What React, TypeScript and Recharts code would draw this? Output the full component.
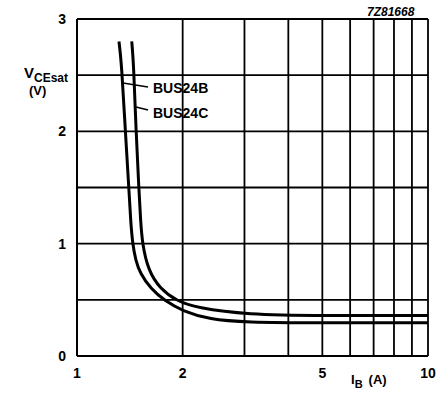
import React from 'react';
import { LineChart, Line, XAxis, YAxis, CartesianGrid, ReferenceLine, Customized } from 'recharts';

const xTicks = [1, 2, 3, 4, 5, 6, 7, 8, 9, 10];
const xLabelled = [1, 2, 5, 10];
const yTicks = [0, 0.5, 1, 1.5, 2, 2.5, 3];
const yLabelled = [0, 1, 2, 3];

const bus24B = [
  { x: 1.317, y: 2.8 },
  { x: 1.34, y: 2.6 },
  { x: 1.373, y: 2.0 },
  { x: 1.405, y: 1.5 },
  { x: 1.422, y: 1.2 },
  { x: 1.44, y: 1.0 },
  { x: 1.47, y: 0.85 },
  { x: 1.512, y: 0.74 },
  { x: 1.62, y: 0.6 },
  { x: 1.781, y: 0.49 },
  { x: 2.0, y: 0.4 },
  { x: 2.39, y: 0.325 },
  { x: 3.0, y: 0.3 },
  { x: 5.0, y: 0.295 },
  { x: 10.0, y: 0.295 },
];

const bus24C = [
  { x: 1.432, y: 2.8 },
  { x: 1.45, y: 2.6 },
  { x: 1.473, y: 2.0 },
  { x: 1.5, y: 1.5 },
  { x: 1.518, y: 1.2 },
  { x: 1.535, y: 1.0 },
  { x: 1.596, y: 0.76 },
  { x: 1.724, y: 0.6 },
  { x: 1.923, y: 0.49 },
  { x: 2.19, y: 0.43 },
  { x: 3.04, y: 0.368 },
  { x: 5.0, y: 0.36 },
  { x: 10.0, y: 0.36 },
];

const font = 'Arial, "Liberation Sans", Helvetica, sans-serif';

const Annotations = () => (
  <g fontFamily={font} fontWeight="bold" fill="#000">
    <text x={153} y={93} fontSize={14}>BUS24B</text>
    <text x={153} y={118} fontSize={14}>BUS24C</text>
    <text x={367} y={16} fontSize={12} fontStyle="italic">7Z81668</text>
    <text x={24} y={78} fontSize={15}>
      V<tspan fontSize={12} dy={4}>CEsat</tspan>
    </text>
    <text x={29} y={95} fontSize={13}>(V)</text>
    <text x={351} y={384} fontSize={13}>
      I<tspan fontSize={11} dy={4}>B</tspan>
      <tspan dy={-4} dx={6}>(A)</tspan>
    </text>
  </g>
);

const xFmt = (v: number) => (xLabelled.includes(v) ? String(v) : '');
const yFmt = (v: number) => (yLabelled.includes(v) ? String(v) : '');

export default function App() {
  return (
    <div style={{ position: 'absolute', left: 0, top: 0, width: 437, height: 396, background: '#fff' }}>
      <LineChart
        width={437}
        height={396}
        margin={{ top: 19, right: 9, bottom: 0, left: 0 }}
      >
        <CartesianGrid stroke="#000" strokeWidth={1.8} />
        <XAxis
          dataKey="x"
          type="number"
          scale="log"
          domain={[1, 10]}
          ticks={xTicks}
          tickFormatter={xFmt}
          interval={0}
          allowDataOverflow
          height={40}
          tickLine={false}
          tickMargin={6}
          axisLine={{ stroke: '#000', strokeWidth: 2 }}
          tick={{ fill: '#000', fontSize: 14, fontWeight: 'bold', fontFamily: font }}
        />
        <YAxis
          type="number"
          domain={[0, 3]}
          ticks={yTicks}
          tickFormatter={yFmt}
          interval={0}
          width={77}
          tickLine={false}
          tickMargin={5}
          axisLine={{ stroke: '#000', strokeWidth: 2 }}
          tick={{ fill: '#000', fontSize: 14, fontWeight: 'bold', fontFamily: font }}
        />
        <ReferenceLine
          segment={[{ x: 1.352, y: 2.43 }, { x: 1.593, y: 2.395 }]}
          stroke="#000"
          strokeWidth={1.5}
        />
        <ReferenceLine
          segment={[{ x: 1.473, y: 2.217 }, { x: 1.593, y: 2.19 }]}
          stroke="#000"
          strokeWidth={1.5}
        />
        <Line
          data={bus24B}
          dataKey="y"
          type="basis"
          stroke="#000"
          strokeWidth={3}
          dot={false}
          isAnimationActive={false}
        />
        <Line
          data={bus24C}
          dataKey="y"
          type="basis"
          stroke="#000"
          strokeWidth={3}
          dot={false}
          isAnimationActive={false}
        />
        <Customized component={Annotations} />
      </LineChart>
    </div>
  );
}
